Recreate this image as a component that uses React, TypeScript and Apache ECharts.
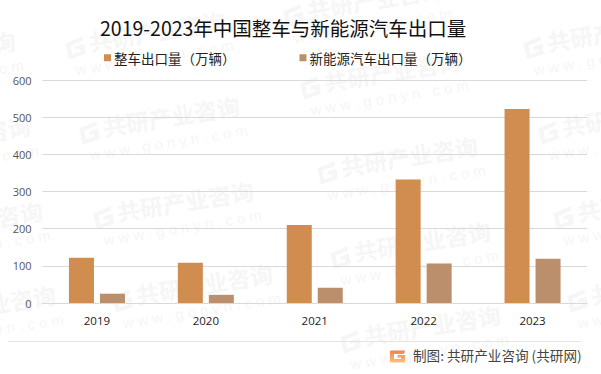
import React, { useEffect, useRef } from "react";
import * as echarts from "echarts";

const categories = ["2019", "2020", "2021", "2022", "2023"];
const vehicleExports = [122, 108, 210, 332, 522];
const nevExports = [25, 22, 41, 106, 119];
const yTicks = { min: 0, max: 600, interval: 100 };
const seriesNames = ["整车出口量（万辆）", "新能源汽车出口量（万辆）"];
const titleText = "2019-2023年中国整车与新能源汽车出口量";
const sourceText = "制图: 共研产业咨询 (共研网)";
const wmMain = "共研产业咨询";
const wmSub = "w w w . g o n y n . c o m";
const wmOrigins = [
  [-145, 62], [-130, 147], [-118, 232], [-105, 316],
  [65, 42], [79, 127], [93, 212], [112, 295],
  [283, 10], [300, 82], [317, 167], [330, 252], [340, 336],
  [523, 42], [538, 127], [553, 212], [567, 295],
];

const CJK = '"Noto Sans CJK SC", "Noto Sans", sans-serif';
const gPath = "M0 3 L15 0 L14 3 L4 5 L4 11 L11 10 L11 8 L7 8.5 L8 6 L15 5 L15 12 L1 14 Z";
const logoPath = "M1 0 L15 0 L14 3.5 L4 3.5 L4 8.5 L11 8.5 L11 7 L7 7 L8 4.5 L15 4.5 L15 11 Q15 12 14 12 L1 12 Q0 12 0 11 L0 1 Q0 0 1 0 Z";

export default function App() {
  const ref = useRef<HTMLDivElement>(null);
  useEffect(() => {
    echarts.graphic.registerShape("gmark", echarts.graphic.extendPath(gPath, {}) as any);
    echarts.graphic.registerShape("glogo", echarts.graphic.extendPath(logoPath, {}) as any);
    const chart = echarts.init(ref.current!, undefined, { renderer: "svg" });
    const wmColor = "#f6f6f6";
    const wm = wmOrigins.map(([x, y]) => ({
      type: "group", x, y, rotation: 0.16, z: 0, silent: true,
      children: [
        { type: "gmark", x: 0, y: -3, scaleX: 1.25, scaleY: 1.5, style: { fill: wmColor } },
        { type: "text", x: 24, y: -8, style: { text: wmMain, font: `bold 23px ${CJK}`, fill: wmColor } },
        { type: "text", x: 6, y: 22, style: { text: wmSub, font: "15px 'Liberation Sans'", fill: wmColor } },
      ],
    }));
    chart.setOption({
      animation: false,
      backgroundColor: "#fff",
      title: {
        text: titleText, left: 100, top: 18, padding: 0,
        textStyle: { fontFamily: CJK, fontSize: 19.5, fontWeight: "normal", color: "#111" },
      },
      legend: {
        top: 51, left: 104, padding: 0, itemWidth: 7, itemHeight: 7, itemGap: 64,
        icon: "rect",
        textStyle: { fontFamily: CJK, fontSize: 13.5, color: "#222", padding: [0, 0, 0, -2] },
        data: seriesNames,
      },
      grid: { left: 42.5, right: 14, top: 80, bottom: 71, containLabel: false },
      xAxis: {
        type: "category", data: categories,
        axisTick: { show: false },
        axisLine: { lineStyle: { color: "#d9d9d9", width: 1 } },
        axisLabel: { margin: 11, color: "#222", fontSize: 11.5, fontFamily: '"Open Sans", sans-serif' },
      },
      yAxis: {
        type: "value", ...yTicks,
        axisLine: { show: false }, axisTick: { show: false },
        axisLabel: { margin: 11, color: "#555", fontSize: 11, padding: [0, 0, 3, 0], fontFamily: '"Open Sans", sans-serif' },
        splitLine: { lineStyle: { color: "#d9d9d9", width: 1 } },
      },
      series: [
        { name: seriesNames[0], type: "bar", data: vehicleExports, barWidth: 25, barGap: "24%", itemStyle: { color: "#d18c4f" }, z: 3 },
        { name: seriesNames[1], type: "bar", data: nevExports, barWidth: 25, itemStyle: { color: "#bb8e6c" }, z: 3 },
      ],
      graphic: [
        ...wm,
        { type: "line", z: 1, shape: { x1: 8, y1: 341.5, x2: 581, y2: 341.5 }, style: { stroke: "#e3e3e3", lineWidth: 1 } },
        {
          type: "glogo", x: 390, y: 350.5, z: 5,
          style: { fill: new echarts.graphic.LinearGradient(0, 0, 0, 1, [{ offset: 0, color: "#f2824a" }, { offset: 1, color: "#f9c27a" }]) },
        },
        { type: "text", x: 413, y: 348, z: 5, style: { text: sourceText, font: `13.6px ${CJK}`, fill: "#444" } },
      ],
    } as any);
    return () => chart.dispose();
  }, []);
  return <div ref={ref} style={{ position: "fixed", left: 0, top: 0, width: 601, height: 374 }} />;
}
